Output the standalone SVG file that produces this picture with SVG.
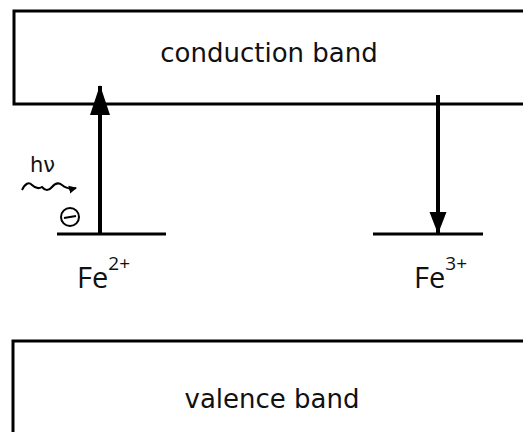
<svg xmlns="http://www.w3.org/2000/svg" width="523" height="432" viewBox="0 0 523 432">
<style>
.band{fill:#fff;stroke:#000;stroke-width:3}
.lvl{stroke:#000;stroke-width:3}
.lbl{font-family:"DejaVu Sans",Verdana,sans-serif;font-size:26px;fill:#111}
.fe{font-family:"Open Sans","Liberation Sans",sans-serif;font-size:29px;fill:#111}
.sup{font-size:19px}
.conn{stroke:#000;stroke-width:4;fill:none}
</style>
<defs>
<marker id="ahUp" markerWidth="30" markerHeight="22" refX="29" refY="11" orient="auto" markerUnits="userSpaceOnUse">
<path d="M0,1 L30,11 L0,21 Z" fill="#000"/>
</marker>
<marker id="ahDown" markerWidth="22" markerHeight="18" refX="21" refY="9" orient="auto" markerUnits="userSpaceOnUse">
<path d="M0,0.5 L22,9 L0,17.5 Z" fill="#000"/>
</marker>
<marker id="wah" markerWidth="9" markerHeight="9" refX="7" refY="4.5" orient="auto" markerUnits="userSpaceOnUse">
<path d="M0,0.5 L8,4.5 L0,8.5 Z" fill="#000"/>
</marker>
</defs>
<rect width="523" height="432" fill="#fff"/>
<g id="conduction-band">
<rect class="band" x="14" y="11" width="520" height="93"/>
<text class="lbl" x="269" y="62" text-anchor="middle">conduction band</text>
</g>
<g id="valence-band">
<rect class="band" x="13" y="341" width="520" height="100"/>
<text class="lbl" x="272" y="408" text-anchor="middle">valence band</text>
</g>
<g id="fe2">
<line class="lvl" x1="57" y1="234" x2="166" y2="234"/>
<text class="fe" x="77" y="288">Fe<tspan class="sup" dy="-18">2+</tspan></text>
</g>
<g id="fe3">
<line class="lvl" x1="373" y1="234" x2="483" y2="234"/>
<text class="fe" x="414" y="288">Fe<tspan class="sup" dy="-18">3+</tspan></text>
</g>
<g id="photon">
<text x="30" y="172" style="font-family:'DejaVu Sans',Verdana,sans-serif;font-size:21px;fill:#111">hν</text>
<path d="M22,190 Q27,180 32,185 T42,187 Q47,193 52,187 T62,185 Q68,190 76,188" fill="none" stroke="#000" stroke-width="2" marker-end="url(#wah)"/>
</g>
<g id="electron">
<circle cx="70" cy="217" r="9" fill="none" stroke="#000" stroke-width="2"/>
<line x1="64" y1="218" x2="76" y2="216" stroke="#000" stroke-width="2"/>
</g>
<g id="connectors">
<line class="conn" x1="100" y1="234" x2="100" y2="86" marker-end="url(#ahUp)"/>
<line class="conn" x1="438" y1="95" x2="438" y2="233" marker-end="url(#ahDown)"/>
</g>
</svg>
